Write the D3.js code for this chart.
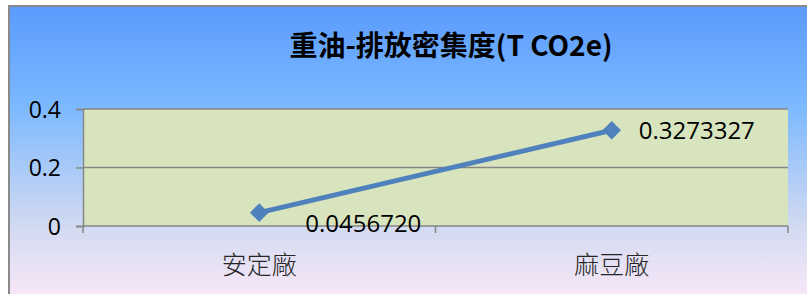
<!DOCTYPE html>
<html>
<head>
<meta charset="utf-8">
<script src="https://d3js.org/d3.v7.min.js"></script>
<style>
    body { margin: 0; background: #fff; }
    svg { display: block; }
    .tick-label { font-family: "Open Sans", "Noto Sans", sans-serif; font-size: 23px; fill: #000; }
    .value-label { font-family: "Open Sans", "Noto Sans", sans-serif; font-size: 24px; fill: #000; }
    .cat-label { font-family: "Noto Sans CJK TC", sans-serif; font-size: 25px; font-weight: 300; fill: #262626; }
    .title { font-family: "Noto Sans CJK TC", sans-serif; font-size: 28px; font-weight: 700; fill: #000; }
</style>
</head>
<body>
<div id="chart"></div>
<script>
    const categories = ["安定廠", "麻豆廠"];
    const values = [0.0456720, 0.3273327];
    const valueLabels = ["0.0456720", "0.3273327"];
    const yTicks = [0, 0.2, 0.4];
    const titleText = "重油-排放密集度(T CO2e)";

    const width = 807, height = 294;
    const plot = { left: 83, right: 788, top: 109, bottom: 226 };

    const svg = d3.select("#chart").append("svg")
        .attr("width", width)
        .attr("height", height);

    // background gradient
    const grad = svg.append("defs").append("linearGradient")
        .attr("id", "bg")
        .attr("x1", 0).attr("y1", 0).attr("x2", 0).attr("y2", 1);
    grad.append("stop").attr("offset", "0%").attr("stop-color", "#5a9bfe");
    grad.append("stop").attr("offset", "33%").attr("stop-color", "#7ab8ff");
    grad.append("stop").attr("offset", "75%").attr("stop-color", "#d2daf1");
    grad.append("stop").attr("offset", "100%").attr("stop-color", "#fae8f8");

    svg.append("rect")
        .attr("x", 9).attr("y", 6)
        .attr("width", width).attr("height", height)
        .attr("fill", "url(#bg)")
        .attr("stroke", "#8a8a8a")
        .attr("stroke-width", 2);

    const x = d3.scalePoint()
        .domain(categories)
        .range([plot.left, plot.right])
        .padding(0.5);

    const y = d3.scaleLinear()
        .domain([0, 0.4])
        .range([plot.bottom, plot.top]);

    // plot area
    svg.append("rect")
        .attr("x", plot.left).attr("y", plot.top)
        .attr("width", plot.right - plot.left)
        .attr("height", plot.bottom - plot.top)
        .attr("fill", "#d7e4bd");

    // gridlines
    svg.append("g")
        .selectAll("line")
        .data(yTicks.filter(d => d > 0))
        .join("line")
        .attr("x1", plot.left).attr("x2", plot.right)
        .attr("y1", d => y(d)).attr("y2", d => y(d))
        .attr("stroke", "#868686")
        .attr("stroke-width", 1.5);

    // y axis
    const yAxis = svg.append("g")
        .attr("transform", `translate(${plot.left},0)`)
        .call(d3.axisLeft(y).tickValues(yTicks).tickSize(7).tickFormat(d3.format("~g")));
    yAxis.attr("font-size", null).attr("font-family", null);
    yAxis.select(".domain").attr("stroke", "#868686").attr("stroke-width", 1.5);
    yAxis.selectAll(".tick line").attr("stroke", "#868686").attr("stroke-width", 1.5);
    yAxis.selectAll(".tick text")
        .attr("class", "tick-label")
        .attr("x", -22)
        .attr("dy", "0.36em");

    // x axis
    const step = x.step();
    const xTickPos = d3.range(categories.length + 1).map(i => plot.left + i * step);
    svg.append("line")
        .attr("x1", plot.left).attr("x2", plot.right)
        .attr("y1", plot.bottom).attr("y2", plot.bottom)
        .attr("stroke", "#868686").attr("stroke-width", 1.5);
    svg.append("g")
        .selectAll("line")
        .data(xTickPos)
        .join("line")
        .attr("x1", d => d).attr("x2", d => d)
        .attr("y1", plot.bottom).attr("y2", plot.bottom + 7)
        .attr("stroke", "#868686").attr("stroke-width", 1.5);

    svg.append("g")
        .selectAll("text")
        .data(categories)
        .join("text")
        .attr("class", "cat-label")
        .attr("x", d => x(d))
        .attr("y", 274)
        .attr("text-anchor", "middle")
        .text(d => d);

    // line
    const pts = categories.map((c, i) => ({ c, v: values[i], label: valueLabels[i] }));
    svg.append("path")
        .datum(pts)
        .attr("fill", "none")
        .attr("stroke", "#4f81bd")
        .attr("stroke-width", 5)
        .attr("stroke-linecap", "round")
        .attr("d", d3.line().x(d => x(d.c)).y(d => y(d.v)));

    svg.append("g")
        .selectAll("path")
        .data(pts)
        .join("path")
        .attr("d", d3.symbol(d3.symbolDiamond2, 220))
        .attr("transform", d => `translate(${x(d.c)},${y(d.v)})`)
        .attr("fill", "#4f81bd");

    // data labels
    const labelOffset = [[46, 19], [27, 9]];
    svg.append("g")
        .selectAll("text")
        .data(pts)
        .join("text")
        .attr("class", "value-label")
        .attr("x", (d, i) => x(d.c) + labelOffset[i][0])
        .attr("y", (d, i) => y(d.v) + labelOffset[i][1])
        .text(d => d.label);

    // title
    svg.append("text")
        .attr("class", "title")
        .attr("x", 451)
        .attr("y", 56)
        .attr("text-anchor", "middle")
        .text(titleText);
</script>
</body>
</html>
